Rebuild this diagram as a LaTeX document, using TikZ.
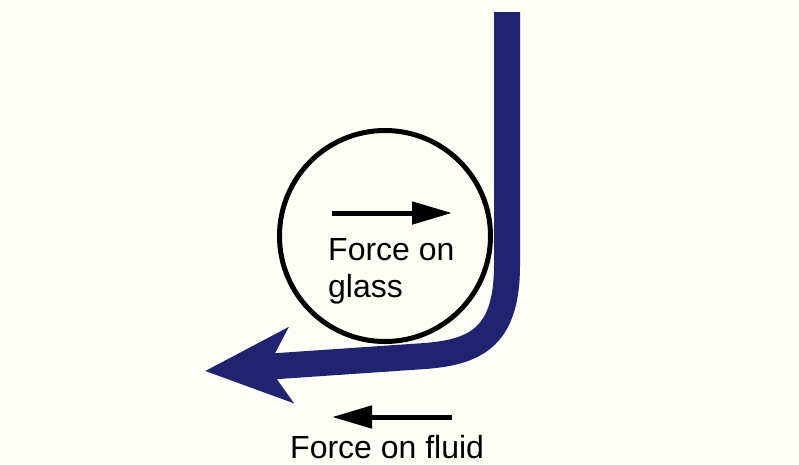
\documentclass[tikz,border=0pt]{standalone}
\usepackage{fontspec}
\setmainfont{Liberation Sans}
\definecolor{SheetCream}{HTML}{FFFEF6}
\definecolor{FlowNavy}{HTML}{1F2370}
\definecolor{InkBlack}{HTML}{000000}
\usetikzlibrary{arrows.meta,positioning}
\tikzset{
    % Thin black force arrows
    force arrow/.style={
        -{Triangle[length=40pt,width=22pt]},
        line width=5pt,
        color=InkBlack
    },
    % Broad stream of fluid
    flow band/.style={
        -{Stealth[length=85pt,width=74pt,inset=22pt]},
        line width=26pt,
        color=FlowNavy
    },
    glass/.style={
        circle,
        draw=InkBlack,
        line width=5pt,
        minimum size=211pt,
        inner sep=0pt
    },
    label text/.style={
        font=\fontsize{32}{37}\selectfont,
        text=InkBlack,
        align=left,
        inner sep=0pt
    }
}
\begin{document}
\begin{tikzpicture}[x=1pt,y=-1pt]
        % Page
        \fill[SheetCream] (0,0) rectangle (799,464);
        \useasboundingbox (0,0) rectangle (799,464);

        % Glass
        \node[glass] (cup) at (385,236) {};

        % Fluid stream
        \coordinate (flow_in) at (507,12);
        \coordinate (flow_bend) at (507,265);
        \coordinate (flow_low) at (425,356);
        \coordinate (flow_out) at (205,371);
        \draw[flow band] (flow_in) -- (flow_bend)
              .. controls (507,335) and (478,352) .. (flow_low) -- (flow_out);

        % Force on glass
        \coordinate (glass_a) at (332,213);
        \coordinate (glass_b) at (452,213);
        \draw[force arrow] (glass_a) -- (glass_b);
        \node[label text, anchor=base west] (glass_lbl) at (328,297) {Force on\\glass};

        % Force on fluid
        \coordinate (fluid_a) at (452,417);
        \coordinate (fluid_b) at (332,417);
        \draw[force arrow] (fluid_a) -- (fluid_b);
        \node[label text, anchor=base west] (fluid_lbl) at (290,458) {Force on fluid};
\end{tikzpicture}
\end{document}
